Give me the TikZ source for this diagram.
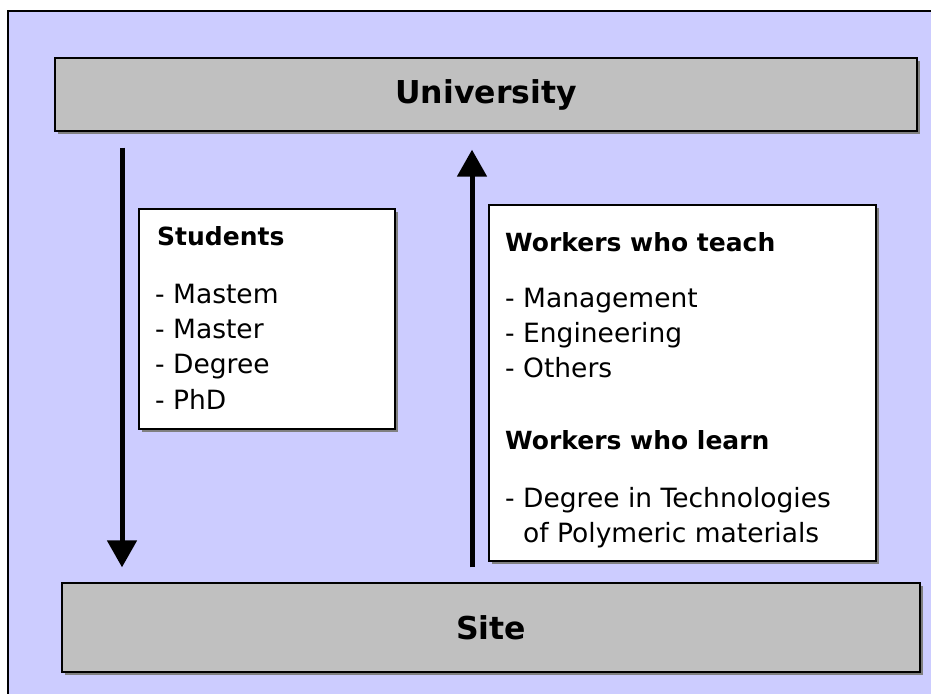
\documentclass[tikz,border=0pt]{standalone}
\usepackage{fontspec}
\setmainfont{DejaVu Sans}
\usetikzlibrary{shadows,arrows.meta}
\definecolor{lav}{HTML}{CCCCFF}
\definecolor{boxgray}{HTML}{C0C0C0}
\definecolor{shadowgray}{HTML}{808080}
\tikzset{
  boxshadow/.style={drop shadow={shadow xshift=3pt, shadow yshift=-3pt, fill=shadowgray, opacity=1}},
  panel/.style={draw=black, line width=1.3pt, fill=boxgray, boxshadow, inner sep=0pt,
    font=\fontsize{31.5}{38}\selectfont\bfseries},
  listbox/.style={draw=black, line width=1.3pt, fill=white, boxshadow, inner sep=0pt},
  headtext/.style={anchor=base west, inner sep=0pt, font=\fontsize{25}{30}\selectfont\bfseries},
  itemtext/.style={anchor=base west, inner sep=0pt, font=\fontsize{26.5}{32}\selectfont},
  flow/.style={line width=5pt, -{Triangle[length=27pt,width=29pt]}}
}
\begin{document}
\begin{tikzpicture}[x=1pt,y=-1pt]
\useasboundingbox (0,0) rectangle (931,693);
\clip (0,0) rectangle (931,693);
\fill[white] (0,0) rectangle (931,693);
\draw[line width=1.3pt, fill=lav] (8,11) rectangle (960,720);

\node[panel, minimum width=862pt, minimum height=73pt] (University) at (486,94.5) {University};
\node[panel, minimum width=858pt, minimum height=89pt] (Site) at (491,627.5) {Site};

\node[listbox, minimum width=256pt, minimum height=220pt] (Students) at (267,319) {};
\node[listbox, minimum width=387pt, minimum height=356pt] (Workers) at (682.5,383) {};

\node[headtext] (st0) at (157,245) {Students};
\node[itemtext] (st1) at (155,303) {- Mastem};
\node[itemtext] (st2) at (155,338) {- Master};
\node[itemtext] (st3) at (155,373) {- Degree};
\node[itemtext] (st4) at (155,409) {- PhD};

\node[headtext] (wt0) at (505,251) {Workers who teach};
\node[itemtext] (wt1) at (505,307) {- Management};
\node[itemtext] (wt2) at (505,342) {- Engineering};
\node[itemtext] (wt3) at (505,377) {- Others};
\node[headtext] (wl0) at (505,449) {Workers who learn};
\node[itemtext] (wl1) at (505,507) {- Degree in Technologies};
\node[itemtext] (wl2) at (505,542) {\phantom{- }of Polymeric materials};

\coordinate (lx) at (122,0);
\coordinate (rx) at (472,0);
\draw[flow, shorten <=16pt, shorten >=15pt] (University.south -| lx) -- (Site.north -| lx);
\draw[flow, shorten <=15pt, shorten >=18pt] (Site.north -| rx) -- (University.south -| rx);
\end{tikzpicture}
\end{document}
